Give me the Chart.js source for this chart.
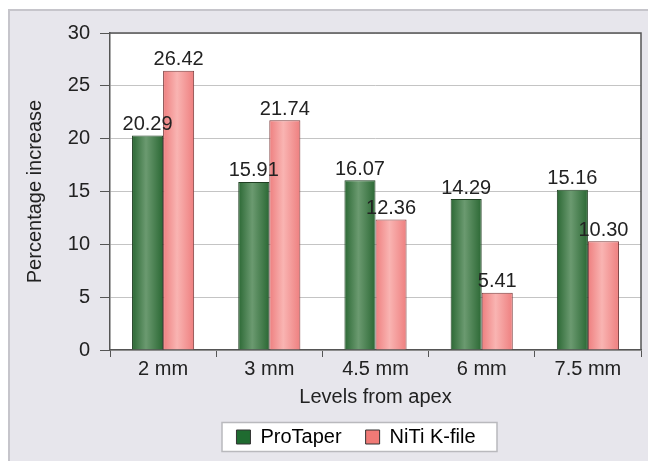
<!DOCTYPE html>
<html>
<head>
<meta charset="utf-8">
<script src="https://cdn.jsdelivr.net/npm/chart.js@4.4.1/dist/chart.umd.min.js"></script>
<style>
  html, body { margin: 0; padding: 0; background: #fff; }
  #panel {
    position: absolute; left: 8px; top: 9px; width: 640px; height: 452px;
    background: #e7e6ec;
    border-left: 2px solid #c6c5cb; border-top: 2px solid #c6c5cb;
    box-sizing: border-box;
  }
  #wrap { position: absolute; left: 0; top: 0; width: 648px; height: 461px; }
</style>
</head>
<body>
<div id="panel"></div>
<div id="wrap"><canvas id="myChart" width="648" height="461"></canvas></div>
<script>
// values
var levels = ["2 mm", "3 mm", "4.5 mm", "6 mm", "7.5 mm"];
var proTaper = [20.29, 15.91, 16.07, 14.29, 15.16];
var nitiKFile = [26.42, 21.74, 12.36, 5.41, 10.30];
var yTicks = [0, 5, 10, 15, 20, 25, 30];

var FONT = "'Liberation Sans', Arial, sans-serif";

// cylinder-ish shading across each bar
function barShade(edge, mid, side) {
  return function (context) {
    var chart = context.chart;
    var x = chart.scales.x;
    if (!chart.chartArea || !x || context.dataIndex === undefined) return edge;
    var slot = (x.getPixelForValue(1) - x.getPixelForValue(0)) * 0.585 / 2;
    var cx = x.getPixelForValue(context.dataIndex);
    var left = side < 0 ? cx - slot : cx;
    var g = chart.ctx.createLinearGradient(left, 0, left + slot, 0);
    g.addColorStop(0, edge);
    g.addColorStop(0.45, mid);
    g.addColorStop(1, edge);
    return g;
  };
}

function legendBoxY(chart) {
  var hb = chart.legend.legendHitBoxes[0];
  return hb.top + hb.height / 2 - 14.5;
}

var plotFrame = {
  id: "plotFrame",
  afterLayout: function (chart) {
    // legend sits a bit right of centre in the original
    chart.legend.left += 24;
    chart.legend.right += 24;
  },
  beforeDraw: function (chart) {
    var a = chart.chartArea, c = chart.ctx;
    c.save();
    c.fillStyle = "#ffffff";
    c.fillRect(a.left, a.top, a.right - a.left, a.bottom - a.top);
    c.fillRect(222, legendBoxY(chart), 275, 29);
    c.restore();
  },
  afterDraw: function (chart) {
    var a = chart.chartArea, c = chart.ctx;
    c.save();
    c.strokeStyle = "#555555";
    c.lineWidth = 1.5;
    c.beginPath();
    c.moveTo(a.left, a.top);
    c.lineTo(a.right, a.top);
    c.lineTo(a.right, a.bottom);
    c.stroke();
    // box around legend
    c.strokeStyle = "#b9b9bd";
    c.lineWidth = 1.5;
    c.strokeRect(222, legendBoxY(chart), 275, 29);
    c.restore();
  },
  afterDatasetsDraw: function (chart) {
    var c = chart.ctx;
    c.save();
    c.font = "20px " + FONT;
    c.fillStyle = "#222222";
    c.textAlign = "center";
    c.textBaseline = "bottom";
    chart.data.datasets.forEach(function (ds, i) {
      chart.getDatasetMeta(i).data.forEach(function (bar, j) {
        c.fillText(ds.data[j].toFixed(2), bar.x, bar.y - 1);
      });
    });
    c.restore();
  }
};

var ctx = document.getElementById("myChart").getContext("2d");
var myChart = new Chart(ctx, {
  type: "bar",
  data: {
    labels: levels,
    datasets: [
      {
        label: "ProTaper",
        data: proTaper,
        backgroundColor: barShade("#2b6834", "#6b9a70", -1),
        borderColor: "#1f3f22",
        borderWidth: 1,
        borderSkipped: "bottom",
        legendColor: "#1f6b30"
      },
      {
        label: "NiTi K-file",
        data: nitiKFile,
        backgroundColor: barShade("#ee7f7f", "#f9b4b2", 1),
        borderColor: "#7a3a3a",
        borderWidth: 1,
        borderSkipped: "bottom",
        legendColor: "#f07a76"
      }
    ]
  },
  options: {
    responsive: false,
    animation: false,
    categoryPercentage: 0.585,
    barPercentage: 1,
    layout: { padding: { top: 33, right: 7, bottom: 4, left: 23 } },
    plugins: {
      tooltip: { enabled: false },
      legend: {
        position: "bottom",
        labels: {
          font: { family: FONT, size: 20 },
          color: "#222222",
          boxWidth: 14,
          boxHeight: 14,
          padding: 24,
          generateLabels: function (chart) {
            return chart.data.datasets.map(function (ds, i) {
              return {
                text: ds.label,
                fillStyle: ds.legendColor,
                strokeStyle: "#333333",
                lineWidth: 1,
                datasetIndex: i
              };
            });
          }
        }
      }
    },
    scales: {
      x: {
        afterFit: function (scale) { scale.height = 53; },
        grid: {
          drawOnChartArea: false,
          drawTicks: true,
          tickLength: 7,
          tickColor: "#555555",
          offset: true
        },
        border: { color: "#555555", width: 1.5 },
        ticks: { font: { family: FONT, size: 20 }, color: "#222222", padding: 0 },
        title: {
          display: true,
          text: "Levels from apex",
          font: { family: FONT, size: 20 },
          color: "#222222",
          padding: { top: 4, bottom: -6 }
        }
      },
      y: {
        min: 0,
        max: 30,
        afterBuildTicks: function (scale) {
          scale.ticks = yTicks.map(function (v) { return { value: v }; });
        },
        afterFit: function (scale) { scale.width = 87; },
        grid: {
          color: "#c4c4c4",
          lineWidth: 1,
          tickLength: 10,
          tickColor: "#555555"
        },
        border: { color: "#555555", width: 1.5 },
        ticks: { font: { family: FONT, size: 20 }, color: "#222222", padding: 10 },
        title: {
          display: true,
          text: "Percentage increase",
          font: { family: FONT, size: 20 },
          color: "#222222",
          padding: { top: 0, bottom: 0 }
        }
      }
    }
  },
  plugins: [plotFrame]
});
</script>
</body>
</html>
